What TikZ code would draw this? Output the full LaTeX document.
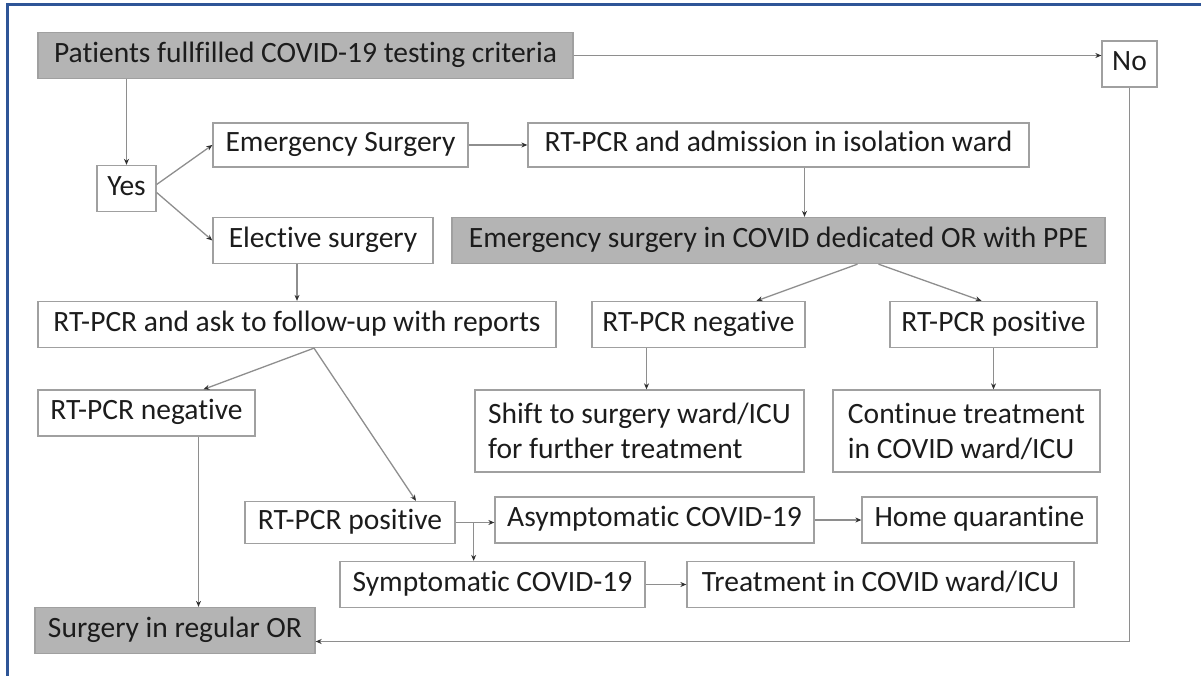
\documentclass[tikz,border=0pt]{standalone}
\usepackage{fontspec}
\setmainfont{Carlito}[Ligatures=NoCommon]
\usepackage{tikz}
\usetikzlibrary{arrows.meta}
\definecolor{framebl}{HTML}{2E5597}
\definecolor{boxgray}{HTML}{B4B4B4}
\definecolor{edgegray}{HTML}{A0A0A0}
\definecolor{wiregray}{HTML}{8E8E8E}
\definecolor{tiptone}{HTML}{303030}
\definecolor{inktone}{HTML}{1C1C1C}

\begin{document}
\begin{tikzpicture}[x=1pt, y=-1pt,
    every node/.style={rectangle, draw=edgegray, line width=1.3pt, text=inktone, inner sep=0pt,
      font=\fontsize{29.5}{35}\selectfont},
    onebox/.style={minimum height=46pt, text height=20pt, text depth=6.5pt},
    twobox/.style={minimum height=82pt, align=left},
    shaded/.style={fill=boxgray},
    arr/.style={draw=wiregray, line width=1.3pt, -{Stealth[length=6pt, width=5pt, color=tiptone]}}]
    \useasboundingbox (0,0) rectangle (1201,676);
    \draw[framebl, line width=3pt] (7,676) -- (7,5) -- (1201,5);

    \node[onebox, shaded, minimum width=535pt] (crit) at (305.5,55.5) {Patients fullfilled COVID-19 testing criteria};
    \node[onebox, minimum width=55pt] (no) at (1129.5,64) {No};
    \node[onebox, minimum width=59pt] (yes) at (126.5,188.5) {Yes};
    \node[onebox, minimum width=255pt, minimum height=44pt] (emerg) at (340.5,145) {Emergency Surgery};
    \node[onebox, minimum width=501pt, minimum height=44pt] (admit) at (778.5,145) {RT-PCR and admission in isolation ward};
    \node[onebox, minimum width=220pt] (elect) at (323,240.5) {Elective surgery};
    \node[onebox, shaded, minimum width=653pt] (cvd) at (778.5,240.5) {Emergency surgery in COVID dedicated OR with PPE};
    \node[onebox, minimum width=518pt] (ask) at (297,324.5) {RT-PCR and ask to follow-up with reports};
    \node[onebox, minimum width=213pt] (rneg) at (698.5,324.5) {RT-PCR negative};
    \node[onebox, minimum width=207pt] (rpos) at (993.5,324.5) {RT-PCR positive};
    \node[twobox, minimum width=329pt] (shift) at (639.5,431) {Shift to surgery ward/ICU\\for further treatment};
    \node[twobox, minimum width=267pt] (cont) at (966.5,431) {Continue treatment\\in COVID ward/ICU};
    \node[onebox, minimum width=217pt] (lneg) at (146.5,413) {RT-PCR negative};
    \node[onebox, minimum width=210pt, minimum height=42pt] (pos2) at (350,522.5) {RT-PCR positive};
    \node[onebox, minimum width=319pt] (asym) at (654.5,520) {Asymptomatic COVID-19};
    \node[onebox, minimum width=235pt] (home) at (979.5,520) {Home quarantine};
    \node[onebox, minimum width=305pt] (symp) at (492.5,584.5) {Symptomatic COVID-19};
    \node[onebox, minimum width=387pt] (treat) at (880.5,584.5) {Treatment in COVID ward/ICU};
    \node[onebox, shaded, minimum width=280pt] (surg) at (175,630.5) {Surgery in regular OR};

    \coordinate (adm) at ([xshift=26pt]admit.south);
    \coordinate (rn) at ([xshift=-52pt]rneg.south);
    \coordinate (ak) at ([xshift=17pt]ask.south);
    \coordinate (ln) at ([xshift=52pt]lneg.south);
    \coordinate (br) at ([xshift=18pt]pos2.east);

    \draw[arr] (crit.east) -- (crit.east -| no.west);
    \draw[arr] (crit.south -| yes.north) -- (yes.north);
    \draw[arr] ([yshift=4pt]yes.east) -- (emerg.west);
    \draw[arr] ([yshift=-4pt]yes.east) -- (elect.west);
    \draw[arr] (emerg.east) -- (admit.west);
    \draw[arr] (adm) -- (adm |- cvd.north);
    \draw[arr] (ask.north |- elect.south) -- (ask.north);
    \draw[arr] ([xshift=79pt]cvd.south) -- ([xshift=58pt]rneg.north);
    \draw[arr] ([xshift=100pt]cvd.south) -- ([xshift=-12pt]rpos.north);
    \draw[arr] (rn) -- (rn |- shift.north);
    \draw[arr] (rpos.south) -- (rpos.south |- cont.north);
    \draw[arr] (ak) -- ([xshift=57pt]lneg.north);
    \draw[arr] (ak) -- ([xshift=66pt]pos2.north);
    \draw[arr] (ln) -- (ln |- surg.north);
    \draw[arr] (pos2.east) -- (pos2.east -| asym.west);
    \draw[arr] (br) -- (br |- symp.north);
    \draw[arr] (asym.east) -- (home.west);
    \draw[arr] (symp.east) -- (treat.west);
    \draw[arr] (no.south) |- ([yshift=-11pt]surg.east);
\end{tikzpicture}
\end{document}
